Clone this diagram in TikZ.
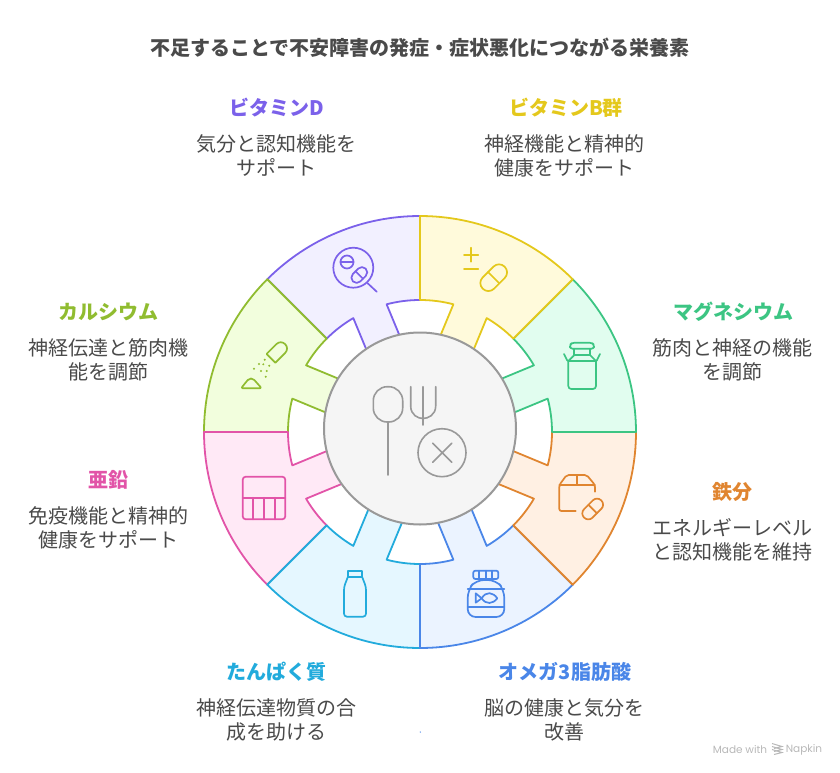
\documentclass[tikz,border=0pt]{standalone}
\usepackage{fontspec}
\setmainfont{Noto Sans CJK JP}
\newfontfamily\creditfont{Poppins}
\usepackage{xcolor}
\usepackage{tikz}

\definecolor{vitd}{HTML}{7B61EA}
\definecolor{vitb}{HTML}{E4C81C}
\definecolor{magnesium}{HTML}{3CC583}
\definecolor{iron}{HTML}{E08530}
\definecolor{omega}{HTML}{4A86E8}
\definecolor{protein}{HTML}{22ABDC}
\definecolor{zinc}{HTML}{E254A8}
\definecolor{calcium}{HTML}{90BC30}
\definecolor{vitdfill}{HTML}{F2F0FF}
\definecolor{vitbfill}{HTML}{FFFADB}
\definecolor{magnesiumfill}{HTML}{E1FDEF}
\definecolor{ironfill}{HTML}{FFF0E3}
\definecolor{omegafill}{HTML}{EBF3FF}
\definecolor{proteinfill}{HTML}{E5F7FF}
\definecolor{zincfill}{HTML}{FFE9F6}
\definecolor{calciumfill}{HTML}{F2FEDD}
\definecolor{ink}{HTML}{4A4A4A}
\definecolor{hubline}{HTML}{999999}

\tikzstyle{petal}=[line width=1.8pt,line join=round]
\tikzstyle{icon}=[line width=1.7pt,line join=round,line cap=round]
\tikzstyle{hub}=[circle,line width=2pt,draw=hubline,fill=black!4,minimum size=192pt,inner sep=0pt]
\tikzstyle{heading}=[font=\fontsize{20}{25}\selectfont\bfseries]
\tikzstyle{detail}=[font=\fontsize{20}{24}\selectfont,text=ink,align=center]

\newcommand{\capsule}[4]{
  \begin{scope}[shift={(#1,#2)},rotate=45]
    \draw [icon,rounded corners=#4*0.49pt] (-#3/2,-#4/2) rectangle (#3/2,#4/2);
    \draw [icon] (0,-#4/2) -- (0,#4/2);
  \end{scope}
}

\begin{document}
\begin{tikzpicture}[x=1pt,y=1pt]
  \useasboundingbox (-420,-340) rectangle (420,432);

  \foreach \m/\c in {112.5/vitd,157.5/calcium,202.5/zinc,247.5/protein,292.5/omega,337.5/iron,22.5/magnesium,67.5/vitb}
    \draw [petal,draw=\c,fill=\c fill] ({\m-22.5}:216)
      arc [start angle=\m-22.5,end angle=\m+22.5,radius=216]
      -- ({\m+22.5}:132)
      arc [start angle=\m+22.5,end angle=\m+7.85,radius=132]
      -- ({\m+12.4}:84)
      arc [start angle=\m+12.4,end angle=\m-12.4,radius=84]
      -- ({\m-7.85}:132)
      arc [start angle=\m-7.85,end angle=\m-22.5,radius=132]
      -- cycle;

  \node at (0,384.5) [heading,text=ink] (title) {不足することで不安障害の発症・症状悪化につながる栄養素};

  \node at (0,3.5) [hub] (centre) {};

  \node at (-143,324.5) [heading,text=vitd]      (vitdlabel) {ビタミンD};
  \node at (146,324.5)  [heading,text=vitb]      (vitblabel) {ビタミンB群};
  \node at (313,120.5)  [heading,text=magnesium] (magnesiumlabel) {マグネシウム};
  \node at (312,-59.5)  [heading,text=iron]      (ironlabel) {鉄分};
  \node at (145,-239.5) [heading,text=omega]     (omegalabel) {オメガ3脂肪酸};
  \node at (-143,-239.5) [heading,text=protein]  (proteinlabel) {たんぱく質};
  \node at (-311,-47.5) [heading,text=zinc]      (zinclabel) {亜鉛};
  \node at (-311,120.5) [heading,text=calcium]   (calciumlabel) {カルシウム};

  \node at (-143,276.5) [detail] (vitdtext) {気分と認知機能を\\サポート};
  \node at (144,276.5)  [detail] (vitbtext) {神経機能と精神的\\健康をサポート};
  \node at (312.5,72.5) [detail] (magnesiumtext) {筋肉と神経の機能\\を調節};
  \node at (312,-107.5) [detail] (irontext) {エネルギーレベル\\と認知機能を維持};
  \node at (144,-287.5) [detail] (omegatext) {脳の健康と気分を\\改善};
  \node at (-143,-287.5) [detail] (proteintext) {神経伝達物質の合\\成を助ける};
  \node at (-311,-95.5) [detail] (zinctext) {免疫機能と精神的\\健康をサポート};
  \node at (-311,72.5)  [detail] (calciumtext) {神経伝達と筋肉機\\能を調節};

  % icons, in pixels of the picture
  \begin{scope}[shift={(-420,432)},y=-1pt]
    \begin{scope}[color=vitd]
      \draw [icon] (353.3,267.7) circle (20);
      \draw [icon] (367.7,283.3) -- (376.7,291.7);
      \draw [icon] (347,262) circle (6.5);
      \draw [icon] (340.5,262) -- (353.5,262);
      \capsule{359.3}{275}{18}{10.5}
    \end{scope}

    \begin{scope}[color=vitb]
      \draw [icon] (464,255) -- (478.3,255);
      \draw [icon] (471,247.7) -- (471,261.7);
      \draw [icon] (464,269) -- (478.3,269);
      \capsule{493.7}{277.7}{31}{16}
    \end{scope}

    \begin{scope}[color=magnesium]
      \draw [icon,rounded corners=2.5pt] (570,348.7) -- (570,345) -- (572,342.7) -- (592,342.7) -- (594,345) -- (594,348.7) -- cycle;
      \draw [icon] (574.3,348.7) -- (574.3,355) -- (590,355) -- (590,348.7);
      \draw [icon] (574.3,355) -- (568.3,361) -- (596,361) -- (590,355);
      \draw [icon,rounded corners=3pt] (568.3,361) -- (568.3,389) -- (596,389) -- (596,361);
      \draw [icon] (564,354) -- (567.3,360.7);
      \draw [icon] (600,354) -- (596.7,360.7);
    \end{scope}

    \begin{scope}[color=iron]
      \draw [icon,rounded corners=2pt] (575.7,511) -- (559.3,511) -- (559.3,485) -- (566.7,475) -- (586.7,475) -- (595,485) -- (595,491.7);
      \draw [icon] (559.3,485) -- (595,485);
      \draw [icon] (576.7,475) -- (576.7,485);
      \capsule{592.7}{509}{24.3}{12}
    \end{scope}

    \begin{scope}[color=omega]
      \draw [icon,rounded corners=2pt] (473.3,570.7) rectangle (498.3,579);
      \draw [icon] (479.3,570.7) -- (479.3,579);
      \draw [icon] (485.7,570.7) -- (485.7,579);
      \draw [icon] (492,570.7) -- (492,579);
      \draw [icon,rounded corners=8pt] (476,580) -- (467.7,590) -- (467.7,617) -- (504.3,617) -- (504.3,590) -- (496,580) -- cycle;
      \draw [icon] (467.7,589) -- (504.3,589);
      \draw [icon] (467.7,606.7) -- (504.3,606.7);
      \draw [icon] (481.7,598.3) .. controls (486,591) and (493,592) .. (497.3,598.3)
        .. controls (493,604) and (486,605) .. (481.7,598.3)
        -- (475.7,593.3) -- (475.7,602.7) -- cycle;
    \end{scope}

    \begin{scope}[color=protein]
      \draw [icon] (347.7,570.7) rectangle (362.3,577.3);
      \draw [icon,rounded corners=3pt] (347.7,577.3) -- (344,587) -- (344,616.7) -- (366,616.7) -- (366,587) -- (362.3,577.3);
    \end{scope}

    \begin{scope}[color=zinc]
      \draw [icon,rounded corners=3pt] (242.7,476.7) rectangle (285.3,519.3);
      \draw [icon] (242.7,497.7) -- (285.3,497.7);
      \foreach \x in {253.3,264,274.7}
        \draw [icon] (\x,497.7) -- (\x,519.3);
    \end{scope}

    \begin{scope}[color=calcium]
      \begin{scope}[shift={(271,358.3)},rotate=45]
        \draw [icon] (0,-6.2) [rounded corners=6pt] -- (20,-6.2) -- (20,6.2) [sharp corners] -- (0,6.2) -- cycle;
      \end{scope}
      \draw [icon,rounded corners=2pt] (241,388.3) -- (261.7,388.3) -- (253,378.5) -- (249,378.5) -- cycle;
      \foreach \x/\y in {254/368.7,259/364,264.7/359.7,263.3/364.3,269.3/365.7,261/371,266.7/371,265.7/376.7}
        \fill (\x,\y) circle (1.1);
    \end{scope}

    \begin{scope}[color=hubline,line width=1.6pt]
      \draw [rounded corners=14pt,line cap=round] (373.3,386.7) rectangle (402.7,422);
      \draw [line cap=round] (388,422) -- (388,475);
      \draw [line cap=round] (410.7,386.7) -- (410.7,406) .. controls (410.7,415) and (418,418.5) .. (423,418.5)
        .. controls (428,418.5) and (435.7,415) .. (435.7,406) -- (435.7,386.7);
      \draw [line cap=round] (423,386.7) -- (423,425);
      \draw (442,452.7) circle (24);
      \draw [line cap=round] (432.7,443.3) -- (451.7,462.3);
      \draw [line cap=round] (451.7,443.3) -- (432.7,462.3);
    \end{scope}

    \fill [omega] (420.3,732) circle (0.7);
  \end{scope}

  % credit
  \node at (320,-318) [font=\creditfont\fontsize{10.5}{12}\selectfont,text=black!28,inner sep=0pt] (madewith) {Made with};
  \node at (384,-318) [font=\creditfont\fontsize{10.5}{12}\selectfont,text=black!28,inner sep=0pt] (napkin) {Napkin};
  \foreach \y in {-314,-317,-320}
    \draw [line width=1pt,black!28] (352,\y+2.5) -- (362,\y-0.5) -- (354,\y-2.5);
\end{tikzpicture}
\end{document}
